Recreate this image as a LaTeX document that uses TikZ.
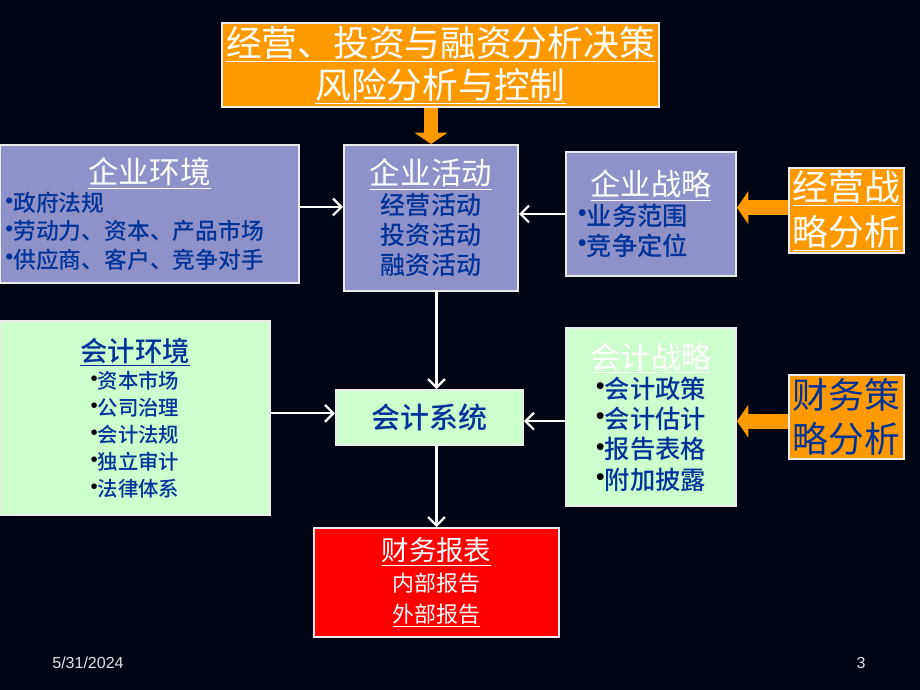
\documentclass[tikz,border=0pt]{standalone}
\usepackage{fontspec}
\setmainfont{Noto Sans CJK SC}
\newfontfamily\medfont{Noto Sans CJK SC Medium}
\newfontfamily\latinfont{Liberation Sans}
\usetikzlibrary{arrows.meta}

\definecolor{bgnavy}{RGB}{0,5,20}
\definecolor{boxblue}{RGB}{143,146,200}
\definecolor{boxgreen}{RGB}{204,255,204}
\definecolor{boxorange}{RGB}{255,153,0}
\definecolor{textblue}{RGB}{0,51,153}
\definecolor{footgray}{RGB}{225,225,225}

\newcommand{\ttl}[1]{\underline{\normalfont#1}}
\newcommand{\dotb}{\raisebox{0.15em}{\latinfont •}}
\newcommand{\fs}[2]{\fontsize{#1}{#2}\selectfont}

\begin{document}
\begin{tikzpicture}[x=0.025cm,y=-0.025cm,
  box/.style={draw=white!92!black,line width=1.4pt,inner sep=0pt},
  flow/.style={draw=white,line width=1.6pt,-{Straight Barb[length=6pt,width=12pt]}},
  bigarrow/.style={draw=boxorange,line width=10.5pt,-{Triangle[length=8pt,width=23pt]}}]
  % Background
  \fill[bgnavy] (0,0) rectangle (920,690);
  \useasboundingbox (0,0) rectangle (920,690);
  % Top box
  \node[box,fill=boxorange,text=white,align=center,minimum width=10.925cm,minimum height=2.1cm,font=\fs{25.4}{30}]
    (top) at (440.5,65) {\ttl{经营、投资与融资分析决策}\\\ttl{风险分析与控制}};
  % Upper row
  \node[box,fill=boxblue,text=textblue,text width=7.2cm,align=left,minimum width=7.475cm,minimum height=3.45cm,font=\medfont\fs{16.2}{20}]
    (envA) at (149.5,214) {\makebox[7.2cm]{\color{white}\fs{21.7}{20}\ttl{企业环境}}\\
    \dotb 政府法规\\\dotb 劳动力、资本、产品市场\\\dotb 供应商、客户、竞争对手};
  \node[box,fill=boxblue,text=textblue,align=center,minimum width=4.35cm,minimum height=3.65cm,font=\medfont\fs{17.8}{21.3}]
    (act) at (431,218) {{\color{white}\fs{21.7}{21.3}\ttl{企业活动}}\\经营活动\\投资活动\\融资活动};
  \node[box,fill=boxblue,text=textblue,text width=3.65cm,align=left,minimum width=4.25cm,minimum height=3.1cm,font=\medfont\fs{18}{21.3}]
    (strat) at (651,214) {\makebox[3.65cm]{\color{white}\fs{21.5}{21.3}\ttl{企业战略}}\\
    \dotb 业务范围\\\dotb 竞争定位};
  \node[box,fill=boxorange,text=white,align=center,minimum width=2.875cm,minimum height=2.125cm,font=\fs{25.4}{32}]
    (opA) at (846.5,210.5) {\ttl{经营战}\\\ttl{略分析}};
  % Lower row
  \node[box,fill=boxgreen,text=textblue,align=center,minimum width=6.75cm,minimum height=4.85cm,font=\medfont\fs{14.5}{19.2}]
    (envB) at (135,418) {{\fs{19.5}{19.2}\underline{会计环境}}\\
    {\color{black}\dotb}资本市场\\{\color{black}\dotb}公司治理\\{\color{black}\dotb}会计法规\\
    {\color{black}\dotb}独立审计\\{\color{black}\dotb}法律体系};
  \node[box,fill=boxgreen,text=textblue,align=center,minimum width=4.675cm,minimum height=1.375cm,font=\medfont\fs{20.6}{24}]
    (sys) at (429.5,417.5) {会计系统};
  \node[box,fill=boxgreen,text=textblue,align=center,minimum width=4.25cm,minimum height=4.45cm,font=\medfont\fs{18}{21.5}]
    (stratB) at (651,417) {{\color{white}\fs{21.5}{21.5}\ttl{会计战略}}\\
    {\color{black}\dotb}会计政策\\{\color{black}\dotb}会计估计\\{\color{black}\dotb}报告表格\\{\color{black}\dotb}附加披露};
  \node[box,fill=boxorange,text=textblue,align=center,minimum width=2.875cm,minimum height=2.1cm,font=\fs{25.4}{31}]
    (opB) at (846.5,417) {财务策\\略分析};
  % Report
  \node[box,fill=red,text=white,align=center,minimum width=6.125cm,minimum height=2.725cm,font=\fs{15.6}{22}]
    (rep) at (436.5,582.5) {{\fs{19.5}{22}\ttl{财务报表}}\\内部报告\\\ttl{外部报告}};
  % Block arrows
  \draw[bigarrow] (top.south -| act.north) -- (act.north);
  \draw[bigarrow] ([yshift=2pt]opA.west) -- ([yshift=2pt]opA.west -| strat.east);
  \draw[bigarrow] ([yshift=-3pt]opB.west) -- ([yshift=-3pt]opB.west -| stratB.east);
  % Connectors
  \draw[flow] ([yshift=5pt]envA.east) -- ([yshift=5pt]envA.east -| act.west);
  \draw[flow] (strat.west) -- (strat.west -| act.east);
  \draw[flow] (act.south -| rep.north) -- (sys.north -| rep.north);
  \draw[flow] ([yshift=3pt]sys.west -| envB.east) -- ([yshift=3pt]sys.west);
  \draw[flow] ([yshift=-3pt]stratB.west) -- ([yshift=-3pt]stratB.west -| sys.east);
  \draw[flow] (sys.south -| rep.north) -- (rep.north);
  % Footer
  \node[text=footgray,font=\latinfont\fs{11.4}{14}] (date) at (88,663) {5/31/2024};
  \node[text=footgray,font=\latinfont\fs{11.4}{14}] (page) at (861,663) {3};
\end{tikzpicture}
\end{document}
